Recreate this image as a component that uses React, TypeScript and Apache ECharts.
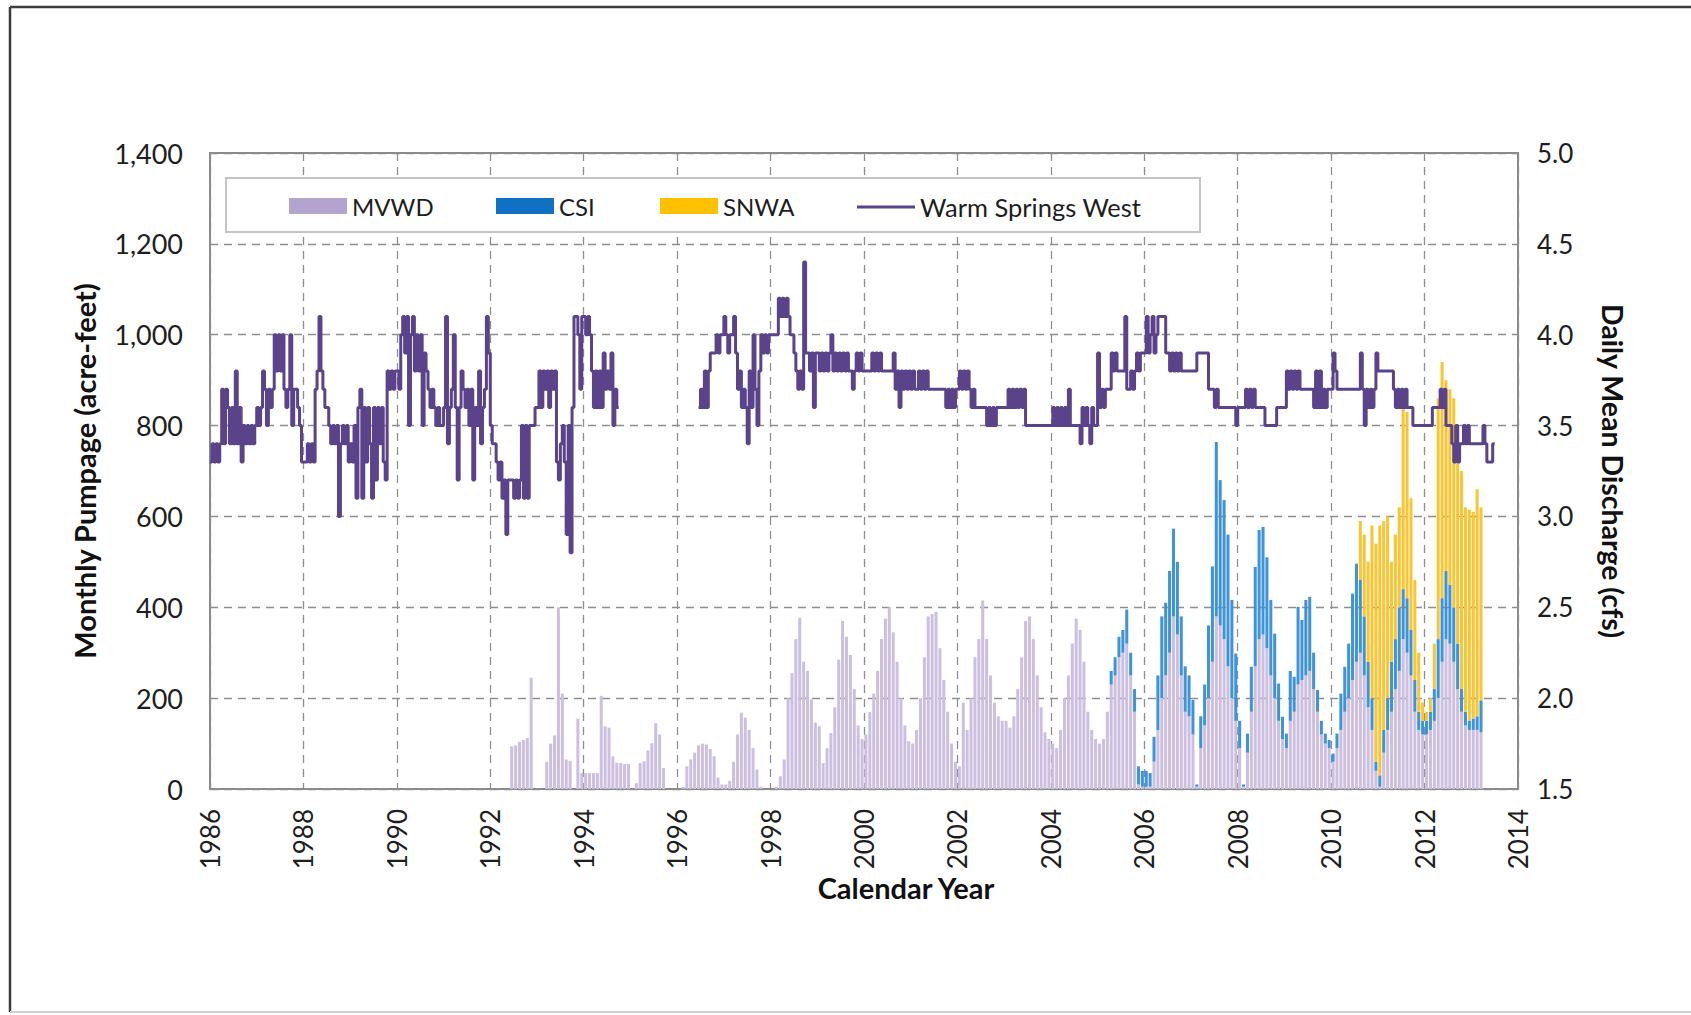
import { useEffect, useRef } from "react";
import * as echarts from "echarts";

// ---- Axis extents -------------------------------------------------------
const FIRST_YEAR = 1986;
const LAST_YEAR = 2013;
const PUMP_MAX = 1400;
const PUMP_STEP = 200;
const Q_MIN = 1.5;
const Q_MAX = 5.0;
const Q_STEP = 0.5;

// ---- Warm Springs West daily mean discharge ------------------------------
// Tenths of cfs, one value per half month (24 per calendar year).
const wsw1986 = [33,34,33,34,33,34,37,34,37,36,34,36,34,38,34,36,33,35,34,35,34,35,34,35];
const wsw1987 = [36,35,36,38,37,35,37,36,37,40,38,40,38,40,37,36,37,40,35,37,37,36,35,33];
const wsw1988 = [33,33,34,33,34,33,37,38,41,38,37,36,36,35,34,35,34,35,30,34,35,34,35,33];
const wsw1989 = [34,33,35,31,36,37,31,36,33,36,34,31,36,32,36,34,36,33,32,38,37,38,37,38];
const wsw1990 = [38,37,40,41,39,41,35,40,41,38,40,38,40,35,39,38,37,36,37,36,35,36,35,35];
const wsw1991 = [36,41,34,36,37,40,36,32,36,38,37,36,37,35,37,32,36,35,38,34,36,37,41,39];
const wsw1992 = [35,34,34,33,32,33,31,32,29,32,32,32,31,32,31,32,35,31,35,31,35,35,35,36];
const wsw1993 = [36,38,36,38,37,38,36,38,37,38,33,32,34,35,33,29,35,28,36,41,41,40,37,41];
const wsw1994 = [41,40,41,40,38,36,38,36,38,36,39,37,38,37,39,35,37,36,null,null,null,null,null,null];
const wsw1995 = [null,null,null,null,null,null,null,null,null,null,null,null,null,null,null,null,null,null,null,null,null,null,null,null];
const wsw1996 = [null,null,null,null,null,null,null,null,null,null,null,36,37,36,38,36,38,39,39,39,40,39,40,40];
const wsw1997 = [41,40,39,40,40,41,39,37,38,36,37,36,34,38,36,40,37,35,38,40,39,40,39,40];
const wsw1998 = [40,40,40,40,42,41,42,41,42,41,40,40,39,38,37,38,37,44,39,39,38,39,36,39];
const wsw1999 = [39,38,39,38,39,38,39,40,38,39,38,39,38,39,38,39,38,38,37,38,39,38,39,38];
const wsw2000 = [38,38,38,38,39,38,39,38,39,38,38,38,38,38,38,39,37,38,36,38,37,38,37,38];
const wsw2001 = [37,38,37,37,38,37,38,37,38,37,37,37,37,37,37,37,37,37,36,37,36,37,36,37];
const wsw2002 = [37,38,37,38,37,38,37,36,37,36,36,36,36,36,36,35,36,35,36,35,36,36,36,36];
const wsw2003 = [36,36,37,36,37,36,37,36,37,36,37,35,35,35,35,35,35,35,35,35,35,35,35,35];
const wsw2004 = [35,36,35,36,35,36,35,36,35,37,35,35,35,35,35,34,36,35,36,35,34,36,35,35];
const wsw2005 = [39,36,37,36,37,37,37,39,38,39,38,38,38,38,41,37,37,38,37,38,39,38,39,39];
const wsw2006 = [39,41,39,40,41,39,40,41,41,41,41,39,39,38,39,38,39,38,39,38,38,38,38,38];
const wsw2007 = [38,38,38,39,39,39,39,39,39,37,37,37,36,37,36,36,36,36,36,36,36,36,36,35];
const wsw2008 = [36,36,36,36,37,36,37,36,37,36,36,36,36,36,35,35,35,35,35,35,36,36,36,36];
const wsw2009 = [36,38,37,38,37,38,37,38,37,37,37,37,37,37,37,36,38,36,38,36,37,36,37,37];
const wsw2010 = [37,39,38,37,37,37,37,37,37,37,37,37,37,37,37,39,37,35,37,36,37,36,37,39];
const wsw2011 = [38,38,38,38,38,38,38,38,37,36,37,36,37,36,37,36,36,36,35,35,35,35,35,35];
const wsw2012 = [35,35,35,35,36,36,36,36,37,36,37,35,35,35,34,33,35,33,34,34,35,34,35,34];
const wsw2013 = [34,34,34,34,34,34,35,34,33,33,33,34,null,null,null,null,null,null,null,null,null,null,null,null];

const wswRows: [number, (number | null)[]][] = [
  [1986, wsw1986], [1987, wsw1987], [1988, wsw1988], [1989, wsw1989], [1990, wsw1990],
  [1991, wsw1991], [1992, wsw1992], [1993, wsw1993], [1994, wsw1994], [1995, wsw1995],
  [1996, wsw1996], [1997, wsw1997], [1998, wsw1998], [1999, wsw1999], [2000, wsw2000],
  [2001, wsw2001], [2002, wsw2002], [2003, wsw2003], [2004, wsw2004], [2005, wsw2005],
  [2006, wsw2006], [2007, wsw2007], [2008, wsw2008], [2009, wsw2009], [2010, wsw2010],
  [2011, wsw2011], [2012, wsw2012], [2013, wsw2013],
];

// ---- Monthly pumpage (acre-feet), Jan..Dec --------------------------------
const mvwd1992 = [0,0,0,0,0,94,96,104,108,112,245,0];
const mvwd1993 = [0,0,60,100,118,400,210,65,62,0,155,35];
const mvwd1994 = [35,35,35,35,205,138,135,72,58,57,55,55];
const mvwd1995 = [0,13,57,61,85,101,145,120,46,0,0,0];
const mvwd1996 = [0,5,50,65,80,96,100,98,88,72,25,10];
const mvwd1997 = [10,18,60,120,168,157,130,90,43,5,0,0];
const mvwd1998 = [0,5,28,65,200,255,330,377,280,260,197,146];
const mvwd1999 = [138,57,90,123,180,285,370,335,295,220,140,110];
const mvwd2000 = [120,170,210,260,330,375,400,345,280,200,140,105];
const mvwd2001 = [100,130,200,290,380,385,390,310,240,170,100,60];
const mvwd2002 = [50,190,130,200,290,330,415,330,250,190,160,150];
const mvwd2003 = [150,135,160,220,290,370,380,330,250,180,125,110];
const mvwd2004 = [100,90,130,200,250,320,375,350,280,170,130,110];
const mvwd2005 = [100,110,170,230,250,290,300,320,250,170,10,5];
const mvwd2006 = [5,5,60,130,200,250,300,380,340,250,170,160];
const mvwd2007 = [120,5,90,140,200,280,380,360,330,270,200,150];
const mvwd2008 = [90,5,80,170,270,330,340,310,250,200,150,110];
const mvwd2009 = [90,150,170,230,240,250,260,220,170,120,100,90];
const mvwd2010 = [60,90,130,170,200,240,280,300,250,180,130,40];
const mvwd2011 = [5,80,130,170,220,260,330,300,250,170,130,120];
const mvwd2012 = [120,130,150,200,280,330,320,280,220,170,140,130];
const mvwd2013 = [130,130,125];

const csi2005 = [0,0,0,30,40,45,50,75,50,50,40,35];
const csi2006 = [35,30,55,120,180,160,180,193,160,130,100,90];
const csi2007 = [76,5,70,90,160,210,384,320,306,290,216,148];
const csi2008 = [60,5,42,99,219,240,237,200,166,142,82,49];
const csi2009 = [32,110,77,171,132,166,163,80,48,30,22,18];
const csi2010 = [18,32,80,99,120,190,216,160,130,100,70,20];
const csi2011 = [25,50,70,110,110,140,110,120,100,70,40,30];
const csi2012 = [30,40,70,130,140,150,130,120,100,50,30,20];
const csi2013 = [25,30,70];

const snwa2010 = [0,0,0,0,0,0,0,130,180,220,380,480];
const snwa2011 = [550,460,400,220,230,220,400,410,290,220,130,40];
const snwa2012 = [20,30,100,530,520,420,430,460,480,480,450,465];
const snwa2013 = [455,500,425];

const mvwdRows: [number, number[]][] = [
  [1992, mvwd1992], [1993, mvwd1993], [1994, mvwd1994], [1995, mvwd1995], [1996, mvwd1996],
  [1997, mvwd1997], [1998, mvwd1998], [1999, mvwd1999], [2000, mvwd2000], [2001, mvwd2001],
  [2002, mvwd2002], [2003, mvwd2003], [2004, mvwd2004], [2005, mvwd2005], [2006, mvwd2006],
  [2007, mvwd2007], [2008, mvwd2008], [2009, mvwd2009], [2010, mvwd2010], [2011, mvwd2011],
  [2012, mvwd2012], [2013, mvwd2013],
];
const csiRows: [number, number[]][] = [
  [2005, csi2005], [2006, csi2006], [2007, csi2007], [2008, csi2008], [2009, csi2009],
  [2010, csi2010], [2011, csi2011], [2012, csi2012], [2013, csi2013],
];
const snwaRows: [number, number[]][] = [
  [2010, snwa2010], [2011, snwa2011], [2012, snwa2012], [2013, snwa2013],
];

// ---- Series names / colours ----------------------------------------------
const NAME_MVWD = "MVWD";
const NAME_CSI = "CSI";
const NAME_SNWA = "SNWA";
const NAME_WSW = "Warm Springs West";

const COLOR_MVWD = "#cdbfe0";
const COLOR_CSI = "#3f93d8";
const COLOR_SNWA = "#f9c532";
const COLOR_WSW = "#5a438a";

const FONT = "Lato, 'Open Sans', sans-serif";

// One category per month across the whole time axis
const months: string[] = [];
for (let y = FIRST_YEAR; y <= LAST_YEAR; y++) {
  for (let m = 1; m <= 12; m++) months.push(`${y}-${String(m).padStart(2, "0")}`);
}

function monthly(rows: [number, number[]][]): (number | null)[] {
  const out: (number | null)[] = months.map(() => null);
  rows.forEach(([year, vals]) => {
    vals.forEach((v, i) => {
      out[(year - FIRST_YEAR) * 12 + i] = v;
    });
  });
  return out;
}

function dischargePoints(): (number | null)[][] {
  const flat: { t: number; v: number | null }[] = [];
  wswRows.forEach(([year, row]) => {
    row.forEach((v, k) => flat.push({ t: year + k / 24, v }));
  });
  const pts: (number | null)[][] = [];
  flat.forEach((p, i) => {
    if (p.v == null) {
      pts.push([p.t, null]);
      return;
    }
    pts.push([p.t, p.v / 10]);
    const next = flat[i + 1];
    if (!next || next.v == null) pts.push([p.t + 1 / 24, p.v / 10]);
  });
  return pts;
}

const GRID = { left: 210, top: 153, width: 1308, height: 636 };

export default function App() {
  const ref = useRef<HTMLDivElement>(null);

  useEffect(() => {
    if (!ref.current) return;
    const chart = echarts.init(ref.current, undefined, { renderer: "svg" });

    const dashed = { color: "#8e8e8e", width: 1.3, type: [8, 6] as number[] };
    const tickFont = { fontFamily: FONT, fontSize: 27, color: "#1e1e1e" };
    const titleFont = { fontFamily: FONT, fontSize: 29, fontWeight: "bold" as const, color: "#111" };

    const legendBase = {
      top: 194,
      padding: 0,
      itemWidth: 58,
      itemHeight: 16,
      selectedMode: false,
      icon: "rect",
      textStyle: { fontFamily: FONT, fontSize: 24, color: "#1e1e1e", lineHeight: 24 },
    };

    const option: echarts.EChartsOption = {
      animation: false,
      backgroundColor: "#ffffff",
      textStyle: { fontFamily: FONT },
      grid: {
        ...GRID,
        show: true,
        borderColor: "#8a8a8a",
        borderWidth: 2,
        backgroundColor: "transparent",
      },
      legend: [
        { ...legendBase, left: 289, data: [{ name: NAME_MVWD, itemStyle: { color: "#b3a3cf" } }] },
        { ...legendBase, left: 496, data: [{ name: NAME_CSI, itemStyle: { color: "#1070c4" } }] },
        { ...legendBase, left: 660, data: [{ name: NAME_SNWA, itemStyle: { color: "#ffc000" } }] },
        {
          ...legendBase,
          left: 857,
          itemHeight: 3,
          textStyle: { ...legendBase.textStyle, fontSize: 25.5 },
          data: [{ name: NAME_WSW, itemStyle: { color: COLOR_WSW } }],
        },
      ],
      xAxis: [
        {
          type: "value",
          min: FIRST_YEAR,
          max: LAST_YEAR + 1,
          interval: 2,
          axisLine: { show: false },
          axisTick: { show: false },
          axisLabel: { ...tickFont, fontSize: 26, rotate: 90, margin: 20, formatter: (v: number) => String(v) },
          splitLine: { show: true, lineStyle: dashed },
        },
        {
          type: "category",
          data: months,
          show: false,
          gridIndex: 0,
        },
      ],
      yAxis: [
        {
          type: "value",
          min: 0,
          max: PUMP_MAX,
          interval: PUMP_STEP,
          name: "Monthly Pumpage (acre-feet)",
          nameLocation: "middle",
          nameGap: 111,
          nameTextStyle: titleFont,
          axisLine: { show: false },
          axisTick: { show: false },
          axisLabel: {
            ...tickFont,
            margin: 27,
            formatter: (v: number) => v.toLocaleString("en-US"),
          },
          splitLine: { show: true, lineStyle: dashed },
        },
        {
          type: "value",
          position: "right",
          min: Q_MIN,
          max: Q_MAX,
          interval: Q_STEP,
          name: "Daily Mean Discharge (cfs)",
          nameLocation: "middle",
          nameRotate: -90,
          nameGap: 80,
          nameTextStyle: { ...titleFont, fontSize: 28.5 },
          axisLine: { show: false },
          axisTick: { show: false },
          axisLabel: { ...tickFont, fontSize: 26, margin: 19, formatter: (v: number) => v.toFixed(1) },
          splitLine: { show: false },
        },
      ],
      graphic: [
        {
          type: "rect",
          z: 3,
          shape: { x: 226, y: 178, width: 974, height: 54 },
          style: { fill: "#ffffff", stroke: "#c4c4c4", lineWidth: 2 },
          silent: true,
        },
        {
          // x-axis title
          type: "text",
          x: 906,
          y: 887,
          style: {
            text: "Calendar Year",
            fontFamily: FONT,
            fontSize: 29,
            fontWeight: "bold",
            fill: "#111",
            align: "center",
            verticalAlign: "middle",
          },
          silent: true,
        },
        {
          type: "line",
          shape: { x1: 10, y1: 7, x2: 1691, y2: 7 },
          style: { stroke: "#3c3c3c", lineWidth: 2.5 },
          silent: true,
        },
        {
          type: "line",
          shape: { x1: 10, y1: 7, x2: 10, y2: 1012 },
          style: { stroke: "#3c3c3c", lineWidth: 2.5 },
          silent: true,
        },
        {
          type: "line",
          shape: { x1: 10, y1: 1012, x2: 1691, y2: 1012 },
          style: { stroke: "#d0d0d0", lineWidth: 2 },
          silent: true,
        },
      ],
      series: [
        {
          name: NAME_MVWD,
          type: "bar",
          xAxisIndex: 1,
          yAxisIndex: 0,
          stack: "pumpage",
          barCategoryGap: "22%",
          itemStyle: { color: COLOR_MVWD },
          data: monthly(mvwdRows),
        },
        {
          name: NAME_CSI,
          type: "bar",
          xAxisIndex: 1,
          yAxisIndex: 0,
          stack: "pumpage",
          barCategoryGap: "22%",
          itemStyle: { color: COLOR_CSI },
          data: monthly(csiRows),
        },
        {
          name: NAME_SNWA,
          type: "bar",
          xAxisIndex: 1,
          yAxisIndex: 0,
          stack: "pumpage",
          barCategoryGap: "22%",
          itemStyle: { color: COLOR_SNWA },
          data: monthly(snwaRows),
        },
        {
          name: NAME_WSW,
          type: "line",
          xAxisIndex: 0,
          yAxisIndex: 1,
          step: "end",
          showSymbol: false,
          connectNulls: false,
          z: 5,
          lineStyle: { color: COLOR_WSW, width: 3 },
          itemStyle: { color: COLOR_WSW },
          data: dischargePoints(),
        },
      ],
    };

    chart.setOption(option);
    return () => chart.dispose();
  }, []);

  return (
    <div
      ref={ref}
      style={{ position: "absolute", left: 0, top: 0, width: 1691, height: 1015, background: "#fff" }}
    />
  );
}
